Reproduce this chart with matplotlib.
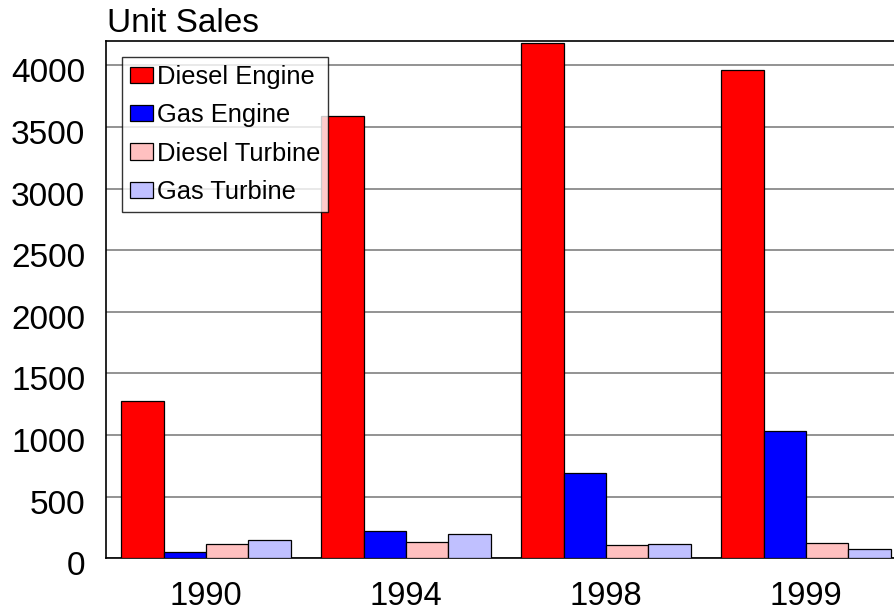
import numpy as np
from matplotlib import pyplot as plt
import matplotlib.transforms as mtransforms

plt.rcParams['font.family'] = ['Liberation Sans', 'DejaVu Sans']

years = ["1990", "1994", "1998", "1999"]
diesel_engine = [1280, 3590, 4185, 3960]
gas_engine = [50, 225, 690, 1030]
diesel_turbine = [115, 130, 105, 126]
gas_turbine = [145, 195, 116, 73]

series = [
    ("Diesel Engine", diesel_engine, "#ff0000"),
    ("Gas Engine", gas_engine, "#0000ff"),
    ("Diesel Turbine", diesel_turbine, "#ffc0c0"),
    ("Gas Turbine", gas_turbine, "#c0c0ff"),
]

fig = plt.figure(figsize=(8.94, 6.13), dpi=100)
# axes runs a little past the right edge, like the reference
ax = fig.add_axes([106 / 894, 54.7 / 613, 800 / 894, 517.6 / 613])

x = np.arange(len(years))
w = 0.212
for i, (name, vals, col) in enumerate(series):
    ax.bar(x + (i - 1.5) * w, vals, w, color=col, edgecolor='black',
           linewidth=0.9, label=name, zorder=3)

ax.set_xlim(-0.5, 3.5)
ax.set_ylim(0, 4200)
ax.set_yticks(range(0, 4001, 500))
ax.yaxis.grid(True, color='#808080', linewidth=1.2, zorder=0)
ax.set_axisbelow(True)
ax.set_xticks(x)
ax.set_xticklabels(years)
ax.tick_params(axis='both', length=0)
ax.tick_params(axis='x', pad=16.5, labelsize=23.5)
ax.tick_params(axis='y', pad=15, labelsize=24)
for sp in ax.spines.values():
    sp.set_color('black')
    sp.set_linewidth(1.2)

# y labels sit a little below their gridlines
shift = mtransforms.ScaledTranslation(0, -0.05, fig.dpi_scale_trans)
for lab in ax.get_yticklabels():
    lab.set_transform(lab.get_transform() + shift)

fig.text(107 / 894, (613 - 31.7) / 613, "Unit Sales", fontsize=24,
         ha='left', va='baseline')

leg = ax.legend(loc='upper left', bbox_to_anchor=(0.0204, 0.968),
                borderaxespad=0, fontsize=18.4, frameon=True, fancybox=False,
                handlelength=0.9, handleheight=0.6, handletextpad=0.15,
                labelspacing=0.56, borderpad=0.3)
leg.get_frame().set_edgecolor('black')
leg.get_frame().set_linewidth(1.0)
leg.set_zorder(5)

plt.savefig("out.png", dpi=100)
